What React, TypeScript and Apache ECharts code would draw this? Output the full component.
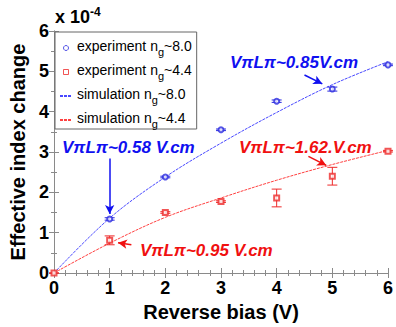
import React, { useEffect, useRef } from "react";
import * as echarts from "echarts";

// Reverse bias (V)
const xTicks = [0, 1, 2, 3, 4, 5, 6];
// Experiment, ng ~ 8.0 (x 1e-4)
const expHighX = [1, 2, 3, 4, 5, 6];
const expHighY = [1.34, 2.38, 3.55, 4.26, 4.56, 5.16];
const expHighErr = [0.03, 0.02, 0.02, 0.03, 0.05, 0.02];
// Experiment, ng ~ 4.4 (x 1e-4)
const expLowX = [0, 1, 2, 3, 4, 5, 6];
const expLowY = [0, 0.81, 1.5, 1.77, 1.86, 2.4, 3.02];
const expLowErr = [0, 0.11, 0.02, 0.02, 0.22, 0.22, 0.02];
// Simulations (x 1e-4)
const simX = [0, 1, 2, 3, 4, 5, 6];
const simHighY = [0, 1.36, 2.38, 3.22, 3.98, 4.67, 5.24];
const simLowY = [0, 0.74, 1.38, 1.86, 2.3, 2.69, 3.04];

const FONT = "Liberation Sans, Arial, sans-serif";
const BLUE = "#2a2ae0";
const RED = "#ee2a2a";
const BLUE_LINE = "#4848ff";
const RED_LINE = "#ff4040";
const ANN_BLUE = "#1010f0";
const ANN_RED = "#f01010";
const FRAME = "#8a8a8a";

const legendLabels: Record<string, string> = {
  expHigh: "{b|experiment n}{sub|g}{b|~8.0}",
  expLow: "{b|experiment n}{sub|g}{b|~4.4}",
  simHigh: "{b|simulation n}{sub|g}{b|~8.0}",
  simLow: "{b|simulation n}{sub|g}{b|~4.4}",
};

const errRender = (color: string) => (params: any, api: any) => {
  const x = api.value(0);
  const lo = api.value(2);
  const hi = api.value(3);
  const pLo = api.coord([x, lo]);
  const pHi = api.coord([x, hi]);
  const h = 5;
  const style = { stroke: color, lineWidth: 1 };
  return {
    type: "group",
    children: [
      { type: "line", shape: { x1: pLo[0], y1: pLo[1], x2: pHi[0], y2: pHi[1] }, style },
      { type: "line", shape: { x1: pLo[0] - h, y1: pLo[1], x2: pLo[0] + h, y2: pLo[1] }, style },
      { type: "line", shape: { x1: pHi[0] - h, y1: pHi[1], x2: pHi[0] + h, y2: pHi[1] }, style },
    ],
  };
};

const annText = (text: string, x: number, y: number, color: string) => ({
  type: "text",
  x,
  y,
  style: {
    text,
    fill: color,
    font: `italic bold 17px ${FONT}`,
    align: "left",
    verticalAlign: "middle",
  },
});

const arrow = (from: number[], to: number[], color: string, width: number) => [
  { coord: from, lineStyle: { color, width, type: "solid" } },
  { coord: to },
];

const hiddenSymbol = { color: "rgba(0,0,0,0)", borderColor: "rgba(0,0,0,0)", borderWidth: 0 };

export default function App() {
  const ref = useRef<HTMLDivElement>(null);
  useEffect(() => {
    if (!ref.current) return;
    const chart = echarts.init(ref.current, null, { renderer: "svg" });
    const axisCommon = {
      type: "value",
      min: 0,
      max: 6,
      interval: 1,
      axisLine: { show: true, lineStyle: { color: FRAME, width: 1 } },
      axisTick: { show: true, inside: true, length: 5, lineStyle: { color: FRAME } },
      splitLine: { show: false },
    };
    const option: any = {
      animation: false,
      backgroundColor: "#fff",
      grid: { left: 54, right: 7, top: 31, bottom: 49 },
      xAxis: [
        {
          ...axisCommon,
          position: "bottom",
          minorTick: { show: true, splitNumber: 5, length: 3, lineStyle: { color: FRAME } },
          axisLabel: { fontSize: 18, fontWeight: "bold", color: "#000", margin: 6, fontFamily: FONT },
          name: "Reverse bias (V)",
          nameLocation: "middle",
          nameGap: 29,
          nameTextStyle: { fontSize: 20, fontWeight: "bold", color: "#000", fontFamily: FONT },
          data: xTicks,
        },
        {
          ...axisCommon,
          position: "top",
          minorTick: { show: true, splitNumber: 5, length: 3, lineStyle: { color: FRAME } },
          axisLabel: { show: false },
        },
      ],
      yAxis: [
        {
          ...axisCommon,
          position: "left",
          minorTick: { show: true, splitNumber: 2, length: 3, lineStyle: { color: FRAME } },
          axisLabel: { fontSize: 18, fontWeight: "bold", color: "#000", margin: 5, fontFamily: FONT },
          name: "Effective index change",
          nameLocation: "middle",
          nameGap: 26,
          nameTextStyle: { fontSize: 20, fontWeight: "bold", color: "#000", fontFamily: FONT },
        },
        {
          ...axisCommon,
          position: "right",
          minorTick: { show: true, splitNumber: 2, length: 3, lineStyle: { color: FRAME } },
          axisLabel: { show: false },
        },
      ],
      legend: {
        left: 55,
        top: 32,
        orient: "vertical",
        itemWidth: 12,
        itemHeight: 5,
        itemGap: 1,
        padding: [2, 5, 0, 4],
        borderColor: "#666",
        borderWidth: 1,
        backgroundColor: "#fff",
        symbolKeepAspect: true,
        data: [
          { name: "expHigh", icon: "path://M5,0A5,5,0,1,1,4.99,0Z", itemStyle: { color: "#fff", borderColor: BLUE, borderWidth: 1 } },
          { name: "expLow", icon: "path://M0,0L10,0L10,10L0,10Z", itemStyle: { color: "#fff", borderColor: RED, borderWidth: 1 } },
          { name: "simHigh", itemStyle: hiddenSymbol },
          { name: "simLow", itemStyle: hiddenSymbol },
        ],
        formatter: (name: string) => legendLabels[name],
        textStyle: {
          color: "#000",
          fontFamily: FONT,
          rich: {
            b: { fontSize: 14, lineHeight: 18, verticalAlign: "top", fontFamily: FONT, color: "#000" },
            sub: { fontSize: 11, lineHeight: 12, verticalAlign: "bottom", padding: [12, 0, 0, 0], fontFamily: FONT, color: "#000" },
          },
        },
      },
      graphic: [
        {
          type: "text",
          x: 55,
          y: 6,
          style: {
            text: "{a|x 10}{s|-4}",
            verticalAlign: "top",
            rich: {
              a: { fontSize: 18, fontWeight: "bold", fontFamily: FONT, lineHeight: 20, padding: [6, 0, 0, 0], verticalAlign: "bottom", fill: "#000" },
              s: { fontSize: 12, fontWeight: "bold", fontFamily: FONT, lineHeight: 12, verticalAlign: "top", fill: "#000" },
            },
          },
        },
        annText("V\u03C0L\u03C0~0.58 V.cm", 62, 147, ANN_BLUE),
        annText("V\u03C0L\u03C0~0.85V.cm", 230, 62, ANN_BLUE),
        annText("V\u03C0L\u03C0~1.62.V.cm", 239, 147, ANN_RED),
        annText("V\u03C0L\u03C0~0.95 V.cm", 140, 250, ANN_RED),
      ],
      series: [
        {
          name: "simHigh",
          type: "line",
          data: simX.map((x, i) => [x, simHighY[i]]),
          smooth: 0.35,
          symbol: "none",
          showSymbol: false,
          lineStyle: { color: BLUE_LINE, width: 1, type: [3, 1] },
          itemStyle: { color: BLUE_LINE },
          z: 2,
          markLine: {
            silent: true,
            symbol: ["none", "arrow"],
            symbolSize: [7, 9],
            label: { show: false },
            data: [
              arrow([1, 2.84], [1, 1.46], ANN_BLUE, 1.5),
              arrow([4.5, 4.91], [4.82, 4.69], ANN_BLUE, 1.5),
            ],
          },
        },
        {
          name: "simLow",
          type: "line",
          data: simX.map((x, i) => [x, simLowY[i]]),
          smooth: 0.35,
          symbol: "none",
          showSymbol: false,
          lineStyle: { color: RED_LINE, width: 1, type: [3, 1] },
          itemStyle: { color: RED_LINE },
          z: 2,
          markLine: {
            silent: true,
            symbol: ["none", "arrow"],
            symbolSize: [7, 9],
            label: { show: false },
            data: [
              arrow([4.57, 2.89], [4.89, 2.67], ANN_RED, 1.5),
              arrow([1.39, 0.7], [1.15, 0.75], ANN_RED, 1.5),
            ],
          },
        },
        {
          name: "errHigh",
          type: "custom",
          renderItem: errRender(BLUE),
          data: expHighX.map((x, i) => [x, expHighY[i], expHighY[i] - expHighErr[i], expHighY[i] + expHighErr[i]]),
          encode: { x: 0, y: 1 },
          z: 3,
        },
        {
          name: "errLow",
          type: "custom",
          renderItem: errRender(RED),
          data: expLowX.map((x, i) => [x, expLowY[i], expLowY[i] - expLowErr[i], expLowY[i] + expLowErr[i]]),
          encode: { x: 0, y: 1 },
          z: 3,
        },
        {
          name: "expHigh",
          type: "scatter",
          symbol: "emptyCircle",
          symbolSize: 5,
          data: expHighX.map((x, i) => [x, expHighY[i]]),
          itemStyle: { color: BLUE, borderWidth: 1.2 },
          z: 4,
        },
        {
          name: "expLow",
          type: "scatter",
          symbol: "emptyRect",
          symbolSize: 5,
          data: expLowX.map((x, i) => [x, expLowY[i]]),
          itemStyle: { color: RED, borderWidth: 1.2 },
          z: 4,
        },
      ],
    };
    chart.setOption(option);
    return () => chart.dispose();
  }, []);
  return <div ref={ref} style={{ width: 396, height: 327, position: "absolute", left: 0, top: 0 }} />;
}
